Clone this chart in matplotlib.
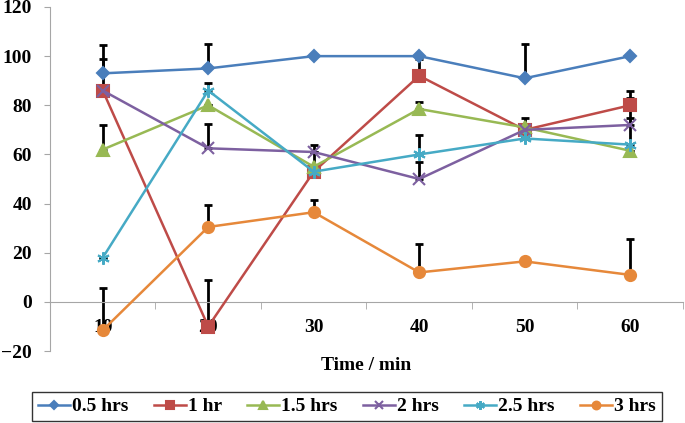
import numpy as np
import matplotlib.pyplot as plt

# sampling times and measured values (upper error only)
times = ['10', '20', '30', '40', '50', '60']
labels = ['0.5 hrs', '1 hr', '1.5 hrs', '2 hrs', '2.5 hrs', '3 hrs']

y_05 = [93, 95, 100, 100, 91, 100]
y_1 = [86, -10, 53, 92, 70, 80]
y_15 = [62, 80, 55, 78.5, 71, 61.5]
y_2 = [86, 62.5, 61, 50, 70, 72]
y_25 = [18, 86, 53, 60, 66.5, 64]
y_3 = [-11.5, 30.5, 36.5, 12, 16.5, 11]

e_05 = [11.5, 10, 0, 0, 14, 0]
e_1 = [13, 19, 0, 7, 0, 6]
e_15 = [10, 0, 6, 3, 4, 0]
e_2 = [0, 10, 3, 7, 0, 11]
e_25 = [0, 3, 0, 8, 0, 11]
e_3 = [17, 9, 5, 11.5, 0, 14.5]

series = [y_05, y_1, y_15, y_2, y_25, y_3]
errors = [e_05, e_1, e_15, e_2, e_25, e_3]
colors = ['#4A7EBB', '#BE4B48', '#98B954', '#7D60A0', '#46AAC5', '#E6883A']
markers = ['D', 's', '^', 'x', (6, 2, 0), 'o']
msizes = [6, 8, 8, 8, 9, 8]

plt.rcParams['font.family'] = ['Liberation Serif', 'DejaVu Serif']
plt.rcParams['font.weight'] = 'bold'

fig = plt.figure(figsize=(6.85, 4.23), dpi=100)
ax = fig.add_axes([0.073, 0.170, 0.924, 0.8135])

x = np.arange(len(times))
for ys, es, c, m, ms, lab in zip(series, errors, colors, markers, msizes, labels):
    ax.plot(x, ys, color=c, lw=1.8, marker=m, ms=ms, mew=1.5, mfc=c, mec=c,
            label=lab, zorder=3)
    ax.errorbar(x, ys, yerr=[np.zeros(len(es)), es], fmt='none', ecolor='black',
                elinewidth=2, capsize=3, capthick=2, zorder=2)

ax.set_ylim(-20, 120)
ax.set_xlim(-0.5, len(times) - 0.5)
ax.set_yticks(range(-20, 121, 20))

axis_col = '#A6A6A6'
for s in ['top', 'right']:
    ax.spines[s].set_visible(False)
ax.spines['left'].set_color(axis_col)
ax.spines['bottom'].set_color(axis_col)
ax.spines['bottom'].set_position(('data', 0))

ax.set_xticks(x)
ax.set_xticklabels(times)
ax.set_xticks(np.arange(-0.5, len(times)), minor=True)
ax.tick_params(axis='x', which='major', length=0, pad=12, labelsize=14)
ax.tick_params(axis='x', which='minor', length=5, color=axis_col, direction='out')
ax.tick_params(axis='y', length=4, color=axis_col, pad=9, labelsize=14)

fig.text(366 / 685, 1 - 365 / 423, 'Time / min', fontsize=14, fontweight='bold',
         ha='center', va='center')

leg = fig.legend(loc='center', bbox_to_anchor=(0.5066, 0.039), ncol=6, frameon=True,
                 fancybox=False, edgecolor='black', fontsize=14, handlelength=1.65,
                 handletextpad=0.1, columnspacing=1.3, borderpad=0.3,
                 borderaxespad=0, markerscale=0.7)
leg.get_frame().set_linewidth(1)

fig.savefig('out.png', dpi=100)
